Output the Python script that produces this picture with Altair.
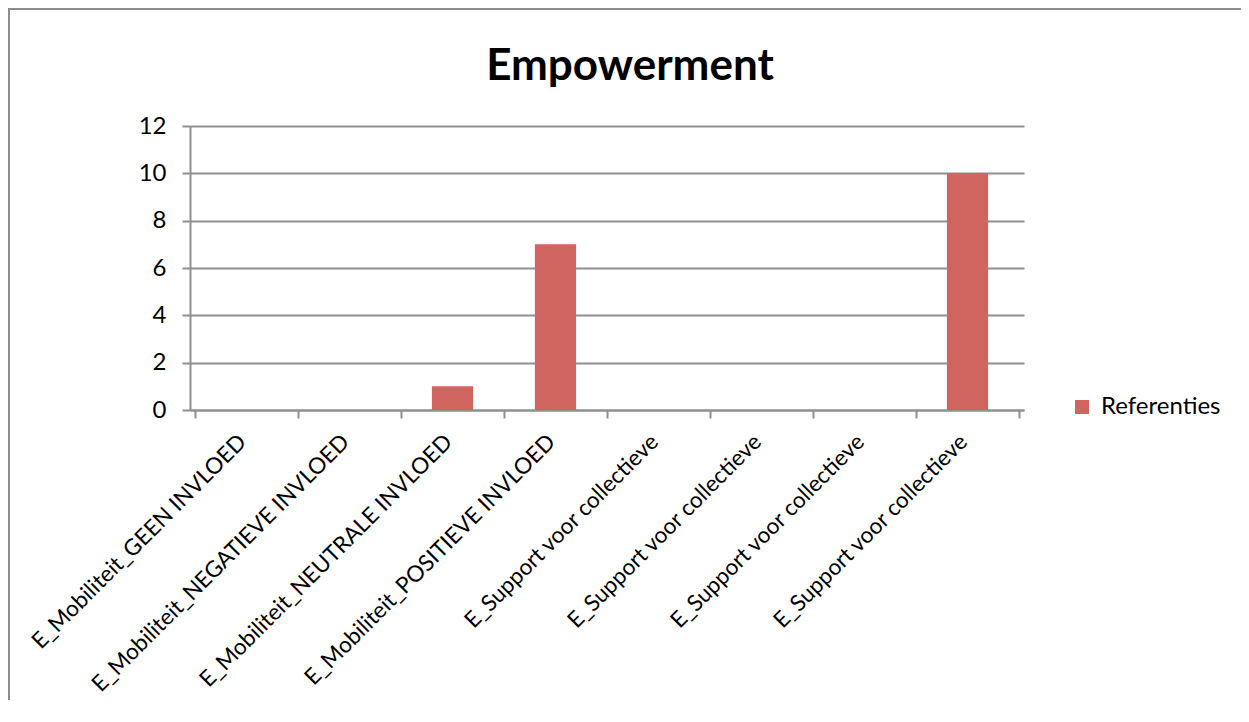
import altair as alt
import pandas as pd

categories = [
    "E_Mobiliteit_GEEN INVLOED",
    "E_Mobiliteit_NEGATIEVE INVLOED",
    "E_Mobiliteit_NEUTRALE INVLOED",
    "E_Mobiliteit_POSITIEVE INVLOED",
    "E_Support voor collectieve",
    "E_Support voor collectieve",
    "E_Support voor collectieve",
    "E_Support voor collectieve",
]
values = [0, 0, 1, 7, 0, 0, 0, 10]
series_name = "Referenties"
y_ticks = [0, 2, 4, 6, 8, 10, 12]
title_text = "Empowerment"

n = len(categories)
df = pd.DataFrame({
    "idx": list(range(n)),
    "label": categories,
    "value": values,
    "series": [series_name] * n,
})

label_js = "[" + ",".join("'" + c + "'" for c in categories) + "]"
label_expr = f"datum.value < {n} ? {label_js}[datum.value] : ''"

FONT = "Lato"
GRID = "#8f8f8f"
FRAME = "#8c8c8c"
W, H = 834, 284
PAD = {"left": 182, "top": 118, "right": 217, "bottom": 290}
FS = 24
XFS = 22.5

bars = alt.Chart(df).transform_calculate(
    x0="datum.idx + 0.3", x1="datum.idx + 0.7"
).mark_bar(color="#D0645F", orient="vertical").encode(
    x=alt.X(
        "x0:Q",
        scale=alt.Scale(domain=[0, n], nice=False, zero=False),
        axis=alt.Axis(
            values=list(range(n + 1)),
            labelExpr=label_expr,
            labelAngle=-45,
            labelAlign="right",
            labelBaseline="middle",
            labelOffset=W / n / 2 - 5,
            labelPadding=20,
            labelOverlap=False,
            labelFlush=False,
            labelBound=False,
            labelLimit=0,
            labelFont=FONT,
            labelFontSize=XFS,
            labelColor="#000000",
            grid=False,
            domainColor=GRID,
            domainWidth=2,
            tickColor=GRID,
            tickWidth=2,
            tickSize=8,
            title=None,
        ),
    ),
    x2="x1:Q",
    y=alt.Y(
        "value:Q",
        scale=alt.Scale(domain=[0, 12], nice=False),
        axis=alt.Axis(
            values=y_ticks,
            labelFont=FONT,
            labelFontSize=FS,
            labelColor="#000000",
            labelPadding=16,
            grid=True,
            gridColor=GRID,
            gridWidth=2,
            domainColor=GRID,
            domainWidth=2,
            tickColor=GRID,
            tickWidth=2,
            tickSize=8,
            title=None,
        ),
    ),
    y2=alt.datum(0),
    color=alt.Color(
        "series:N",
        scale=alt.Scale(range=["#D0645F"]),
        legend=alt.Legend(
            title=None,
            orient="none",
            legendX=880,
            legendY=269,
            symbolType="square",
            symbolSize=196,
            symbolStrokeWidth=0,
            labelFont=FONT,
            labelFontSize=FS,
            labelColor="#000000",
            labelOffset=7,
        ),
    ),
)

one_row = alt.Data(values=[{"t": title_text}])

# chart title, centred over the whole chart area
title = alt.Chart(one_row).mark_text(
    font=FONT, fontSize=44, fontWeight="bold", color="#000000",
    align="center", baseline="alphabetic",
).encode(
    text="t:N",
    x=alt.value(W / 2 + 23),
    y=alt.value(-46),
)

# chart-area border (decoration): left and top edges only, as in the reference
frame_left = alt.Chart(one_row).mark_rule(color=FRAME, strokeWidth=2).encode(
    x=alt.value(-PAD["left"] + 1),
    y=alt.value(-PAD["top"]),
    y2=alt.value(H + PAD["bottom"]),
)
frame_top = alt.Chart(one_row).mark_rule(color=FRAME, strokeWidth=2).encode(
    y=alt.value(-PAD["top"] + 1),
    x=alt.value(-PAD["left"]),
    x2=alt.value(W + PAD["right"]),
)

chart = alt.layer(frame_left, frame_top, title, bars).properties(
    width=W,
    height=H,
    autosize=alt.AutoSizeParams(type="none"),
    padding=PAD,
).configure_view(stroke="transparent", strokeWidth=0)

chart.save("out.html", embed_options={"renderer": "svg", "actions": False})
